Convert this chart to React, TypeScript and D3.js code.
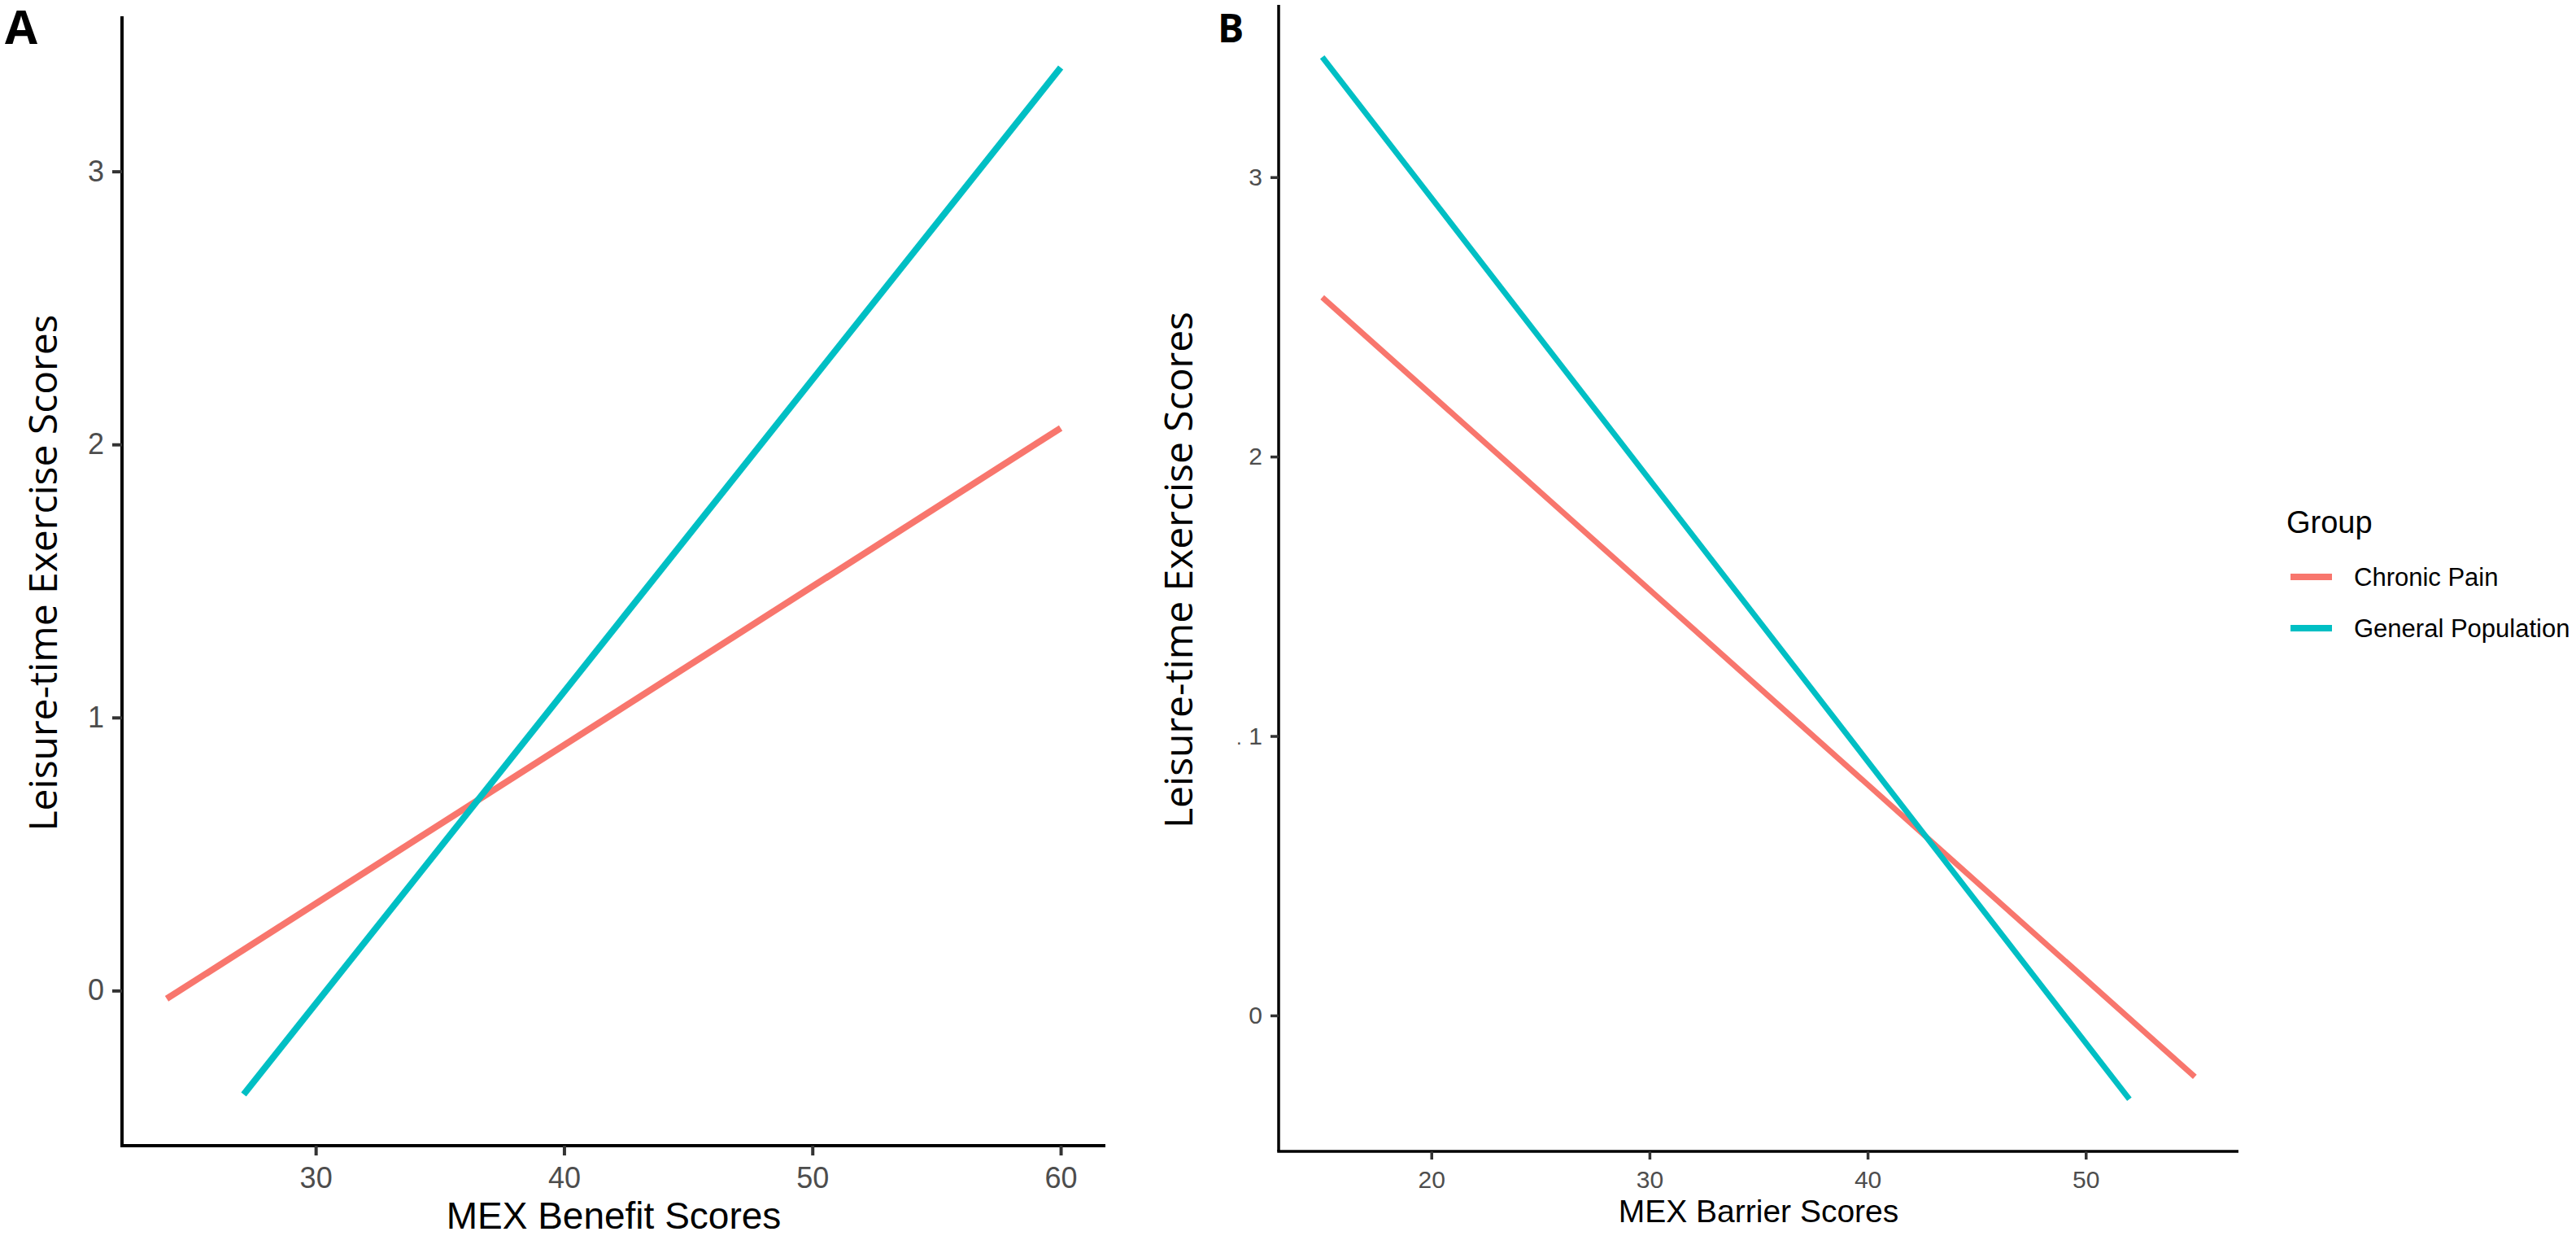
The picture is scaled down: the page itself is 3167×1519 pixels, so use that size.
import React, { useEffect, useRef } from 'react';
import * as d3 from 'd3';

// --- DATA ---
const groups = ['Chronic Pain', 'General Population'];
const groupColors = ['#F8766D', '#00BFC4'];

// Panel A: MEX Benefit Scores (line end points)
const benefitChronicX = [24, 60];
const benefitChronicY = [-0.03, 2.06];
const benefitGeneralX = [27.1, 60];
const benefitGeneralY = [-0.38, 3.38];
const benefitXTicks = [30, 40, 50, 60];

// Panel B: MEX Barrier Scores (line end points)
const barrierChronicX = [15, 55];
const barrierChronicY = [2.57, -0.22];
const barrierGeneralX = [15, 52];
const barrierGeneralY = [3.43, -0.3];
const barrierXTicks = [20, 30, 40, 50];

const yTicks = [0, 1, 2, 3];

const W = 3167;
const H = 1519;

// ggplot-style 5% expansion
const expand = (lo: number, hi: number) => {
  const d = (hi - lo) * 0.05;
  return [lo - d, hi + d];
};

interface PanelSpec {
  left: number;
  right: number;
  top: number;
  bottom: number;
  series: { x: number[]; y: number[]; color: string }[];
  xTicks: number[];
  xTitle: string;
  tag: string;
  tagSize: number;
  tickSize: number;
  xTitleSize: number;
  axisWidth: number;
  tickLen: number;
  lineWidth: number;
  yTitleX: number;
}

export default function App() {
  const svgRef = useRef<SVGSVGElement>(null);

  useEffect(() => {
    document.body.style.margin = '0';
    document.body.style.overflow = 'hidden';
    if (!svgRef.current) return;
    const svg = d3.select(svgRef.current);
    svg.selectAll('*').remove();

    const panels: PanelSpec[] = [
      {
        left: 150, right: 1359, top: 20, bottom: 1408,
        series: [
          { x: benefitChronicX, y: benefitChronicY, color: groupColors[0] },
          { x: benefitGeneralX, y: benefitGeneralY, color: groupColors[1] },
        ],
        xTicks: benefitXTicks,
        xTitle: 'MEX Benefit Scores',
        tag: 'A', tagSize: 58, tickSize: 36, xTitleSize: 46,
        axisWidth: 4, tickLen: 12, lineWidth: 8, yTitleX: 70,
      },
      {
        left: 1572, right: 2752, top: 6, bottom: 1415,
        series: [
          { x: barrierChronicX, y: barrierChronicY, color: groupColors[0] },
          { x: barrierGeneralX, y: barrierGeneralY, color: groupColors[1] },
        ],
        xTicks: barrierXTicks,
        xTitle: 'MEX Barrier Scores',
        tag: 'B', tagSize: 48, tickSize: 30, xTitleSize: 39,
        axisWidth: 3.5, tickLen: 10, lineWidth: 7, yTitleX: 1466,
      },
    ];

    const fmt = d3.format('d');

    panels.forEach((p, pi) => {
      const allX = p.series.flatMap(s => s.x);
      const allY = p.series.flatMap(s => s.y);
      const x = d3.scaleLinear()
        .domain(expand(d3.min(allX)!, d3.max(allX)!))
        .range([p.left, p.right]);
      const y = d3.scaleLinear()
        .domain(expand(d3.min(allY)!, d3.max(allY)!))
        .range([p.bottom, p.top]);

      const g = svg.append('g');

      // lines
      const line = d3.line<[number, number]>()
        .x(d => x(d[0]))
        .y(d => y(d[1]));
      p.series.forEach(s => {
        g.append('path')
          .attr('d', line(s.x.map((v, i) => [v, s.y[i]] as [number, number])))
          .attr('fill', 'none')
          .attr('stroke', s.color)
          .attr('stroke-width', p.lineWidth)
          .attr('stroke-linecap', 'butt');
      });

      // x axis
      const xAxis = g.append('g')
        .attr('transform', `translate(0,${p.bottom})`)
        .call(d3.axisBottom(x).tickValues(p.xTicks).tickFormat(fmt as any)
          .tickSize(p.tickLen).tickPadding(14).tickSizeOuter(0));
      // y axis
      const yAxis = g.append('g')
        .attr('transform', `translate(${p.left},0)`)
        .call(d3.axisLeft(y).tickValues(yTicks).tickFormat(fmt as any)
          .tickSize(p.tickLen).tickPadding(10).tickSizeOuter(0));

      [xAxis, yAxis].forEach(ax => {
        ax.select('.domain').attr('stroke', '#000').attr('stroke-width', p.axisWidth);
        ax.selectAll('.tick line').attr('stroke', '#333').attr('stroke-width', p.axisWidth);
        ax.selectAll('.tick text')
          .attr('fill', '#4D4D4D')
          .attr('font-family', '"Liberation Sans", Arial, sans-serif')
          .attr('font-size', p.tickSize);
      });
      // the x-axis line spans the full panel width, the y-axis line the full height
      xAxis.select('.domain').attr('d', `M${p.left - p.axisWidth / 2},0H${p.right}`);
      yAxis.select('.domain').attr('d', `M0,${p.top}V${p.bottom}`);

      // stray dot beside the "1" label in panel B
      if (pi === 1) {
        g.append('text')
          .attr('x', p.left - 52)
          .attr('y', y(1) + 10)
          .attr('font-family', '"Liberation Sans", Arial, sans-serif')
          .attr('font-size', 24)
          .attr('fill', '#4D4D4D')
          .text('.');
      }

      // x title
      g.append('text')
        .attr('x', (p.left + p.right) / 2)
        .attr('y', pi === 0 ? 1510 : 1502)
        .attr('text-anchor', 'middle')
        .attr('font-family', '"Liberation Sans", Arial, sans-serif')
        .attr('font-size', p.xTitleSize)
        .attr('fill', '#000')
        .text(p.xTitle);

      // y title
      g.append('text')
        .attr('transform', `translate(${p.yTitleX},${(p.top + p.bottom) / 2 - 10}) rotate(-90)`)
        .attr('text-anchor', 'middle')
        .attr('font-family', '"Open Sans", "Noto Sans", sans-serif')
        .attr('font-size', 48)
        .attr('fill', '#000')
        .text('Leisure-time Exercise Scores');

      // panel tag
      g.append('text')
        .attr('x', pi === 0 ? 6 : 1497)
        .attr('y', pi === 0 ? 54 : 52)
        .attr('font-family', '"Open Sans", "Noto Sans", sans-serif')
        .attr('font-weight', 'bold')
        .attr('font-size', p.tagSize)
        .attr('fill', '#000')
        .text(p.tag);
    });

    // legend
    const legend = svg.append('g').attr('transform', 'translate(2811,0)');
    legend.append('text')
      .attr('x', 0)
      .attr('y', 655)
      .attr('font-family', '"Liberation Sans", Arial, sans-serif')
      .attr('font-size', 38)
      .attr('fill', '#000')
      .text('Group');
    const legendY = d3.scalePoint<string>().domain(groups).range([709, 772]);
    groups.forEach((grp, i) => {
      legend.append('line')
        .attr('x1', 5).attr('x2', 56)
        .attr('y1', legendY(grp)!).attr('y2', legendY(grp)!)
        .attr('stroke', groupColors[i])
        .attr('stroke-width', 8);
      legend.append('text')
        .attr('x', 83)
        .attr('y', legendY(grp)! + 11)
        .attr('font-family', '"Liberation Sans", Arial, sans-serif')
        .attr('font-size', 31)
        .attr('fill', '#000')
        .text(grp);
    });
  }, []);

  return (
    <svg
      ref={svgRef}
      width={W}
      height={H}
      style={{ position: 'absolute', left: 0, top: 0, background: '#fff', display: 'block' }}
    />
  );
}
